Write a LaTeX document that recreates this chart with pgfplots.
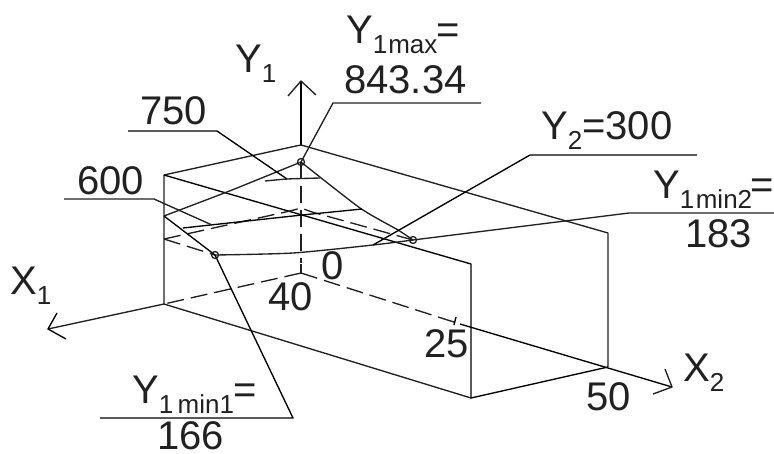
\documentclass[border=0pt]{standalone}
\usepackage{fontspec}
\setmainfont{Liberation Sans}
\usepackage{pgfplots}
\pgfplotsset{compat=1.18}
\definecolor{ink}{gray}{0.13}
\newcommand{\lab}{\fontsize{40}{44}\selectfont}
\newcommand{\sub}[1]{{\fontsize{26}{28}\selectfont\raisebox{-10pt}{#1}}}
\tikzset{
    dashline/.style={dash pattern=on 17pt off 7pt},
    txt/.style={anchor=base west, inner sep=0pt, text=ink, font=\lab},
}
\begin{document}
\begin{tikzpicture}
\useasboundingbox (0,0) rectangle (774pt,453pt);
\begin{axis}[
    at={(0,0)}, anchor=south west,
    scale only axis,
    width=774pt, height=453pt,
    xmin=0, xmax=774,
    ymin=0, ymax=453,
    y dir=reverse,
    hide axis,
    clip=false,
    cycle list={{ink,solid}},
    every axis plot/.append style={no marks, line width=1.35pt, line join=round},
]
% box, top
\addplot coordinates {(164,304) (164,175) (296,146) (301,145) (308,147) (608,233) (608,367)};
\addplot coordinates {(164,175) (471,264) (471,398) (608,367)};
\addplot coordinates {(164,304) (471,398)};
% Y1 axis
\addplot coordinates {(301,145) (301,81)};
\addplot coordinates {(288,96) (301,81) (316,95)};
\addplot[ink, dashline] coordinates {(301,162) (301,263)};
\addplot coordinates {(301,264) (301,273)};
% X1 axis
\addplot[ink, dashline] coordinates {(301,273) (164,304)};
\addplot coordinates {(164,304) (48,329)};
\addplot coordinates {(57,313) (48,329) (66,339)};
% X2 axis
\addplot[ink, dashline] coordinates {(301,273) (460,324)};
\addplot coordinates {(460,324) (672,387)};
\addplot coordinates {(665,369) (672,387) (653,394)};
\addplot coordinates {(456,317) (454,325)};
% hidden base of the surface
\addplot[ink, dashline] coordinates {(164,239) (290,211) (301,208) (312,212) (413,240)};
\addplot[ink, dashline] coordinates {(164,239) (215,255)};
% surface edges
\addplot[ink, smooth, tension=0.3] coordinates {(164,216) (232,190) (301,162)};
\addplot coordinates {(164,216) (215,255)};
\addplot[ink, smooth, tension=0.4] coordinates {(301,162) (360,208) (398,230) (413,240)};
\addplot[ink, smooth, tension=0.4] coordinates {(215,255) (293,253) (373,245) (413,240)};
% contours
\addplot[ink, smooth, tension=0.3] coordinates {(265,181) (287,179) (320,178)};
\addplot coordinates {(183,228) (302,215) (362,209)};
% leaders
\addplot coordinates {(301,162) (333,103) (481,103)};
\addplot coordinates {(128,131) (217,131) (287,179)};
\addplot coordinates {(64,199) (154,199) (212,225)};
\addplot coordinates {(373,245) (530,155) (697,155)};
\addplot coordinates {(413,240) (629,213) (774,213)};
\addplot coordinates {(215,255) (293,418) (100,418)};
% marked points
\addplot[only marks, mark=o, mark size=3.5pt, mark options={line width=1.3pt, draw=ink, fill opacity=0}] coordinates {(301,162) (215,255) (413,240)};
% labels
\node[txt] at (axis cs:235,72) {Y\sub{1}};
\node[txt] at (axis cs:346,43) {Y\sub{1\kern1pt max}\kern-1pt=};
\node[txt] at (axis cs:344,93) {843.34};
\node[txt] at (axis cs:140,124) {750};
\node[txt] at (axis cs:77,194) {600};
\node[txt] at (axis cs:541,139) {Y\sub{2}=300};
\node[txt] at (axis cs:653,198) {Y\sub{1\kern1.5pt min2}\kern-2pt=};
\node[txt] at (axis cs:685,247) {183};
\node[txt] at (axis cs:10,294) {X\sub{1}};
\node[txt] at (axis cs:268,310) {40};
\node[txt] at (axis cs:321,279) {0};
\node[txt] at (axis cs:424,357) {25};
\node[txt] at (axis cs:586,410) {50};
\node[txt] at (axis cs:683,381) {X\sub{2}};
\node[txt] at (axis cs:132,403) {Y\sub{1\,min1}\kern-1pt=};
\node[txt] at (axis cs:157,449) {166};
\end{axis}
\end{tikzpicture}
\end{document}
